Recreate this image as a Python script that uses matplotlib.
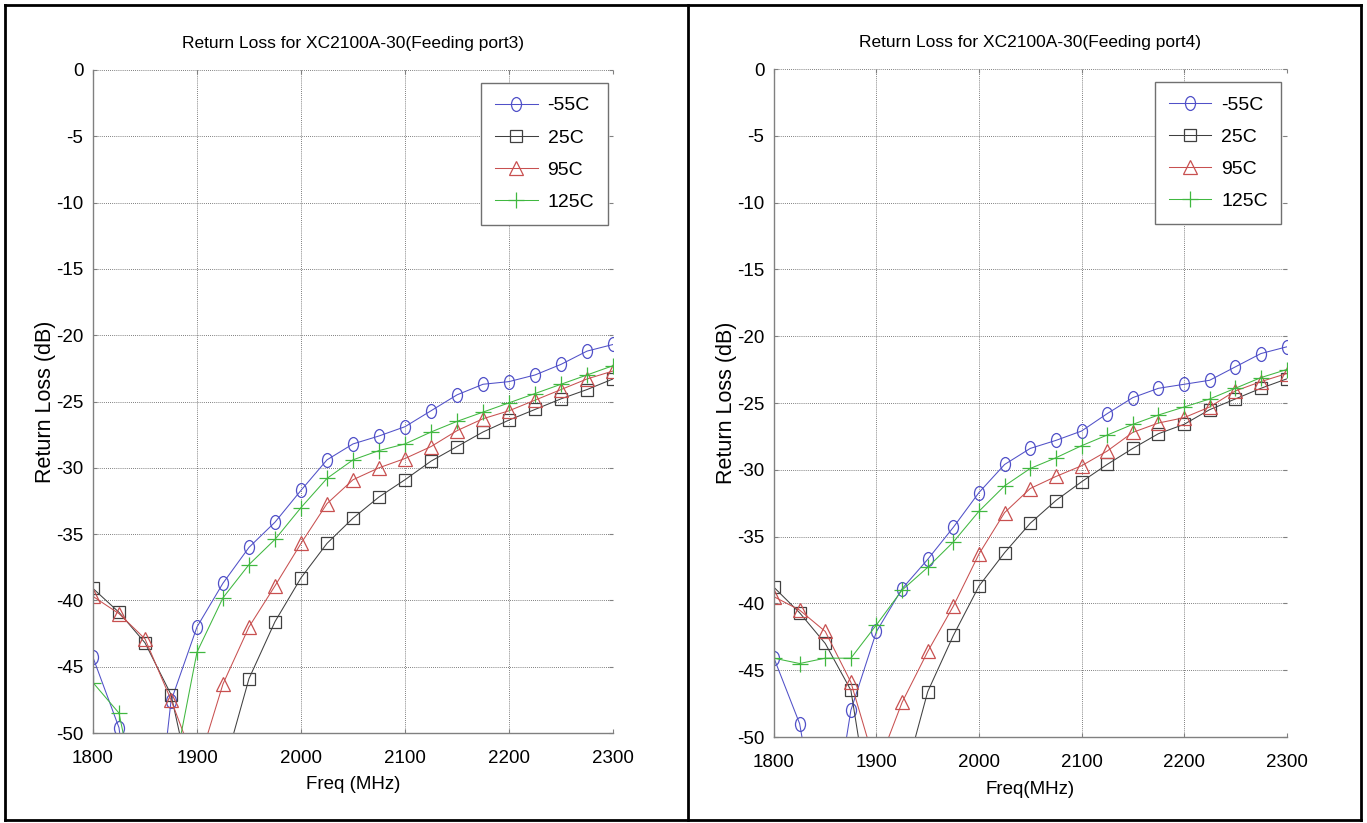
import numpy as np
import matplotlib
matplotlib.use("Agg")
from matplotlib import pyplot as plt
from matplotlib.path import Path
from matplotlib.transforms import Affine2D
from matplotlib.lines import Line2D

plt.rcParams['font.family'] = ['Liberation Sans', 'DejaVu Sans']
plt.rcParams['axes.unicode_minus'] = False

freq = np.arange(1800, 2301, 25)
labels = ['-55C', '25C', '95C', '125C']

# port3 (left panel)
p3_m55 = [-44.3, -49.6, -65.0, -47.6, -42.0, -38.7, -36.0, -34.1, -31.7, -29.4, -28.2,
          -27.6, -26.9, -25.7, -24.5, -23.7, -23.5, -23.0, -22.2, -21.2, -20.7]
p3_25 = [-39.1, -40.9, -43.2, -47.1, -56.0, -52.9, -45.9, -41.6, -38.3, -35.7, -33.8,
         -32.2, -30.9, -29.5, -28.4, -27.3, -26.4, -25.6, -24.8, -24.1, -23.3]
p3_95 = [-39.7, -41.0, -42.9, -47.5, -52.7, -46.3, -42.0, -38.9, -35.7, -32.7, -30.9,
         -30.0, -29.3, -28.4, -27.2, -26.3, -25.7, -24.9, -24.1, -23.3, -22.7]
p3_125 = [-46.2, -48.5, -58.0, -54.0, -43.9, -39.8, -37.3, -35.4, -33.0, -30.8, -29.4,
          -28.7, -28.2, -27.3, -26.5, -25.8, -25.1, -24.4, -23.7, -23.0, -22.3]

# port4 (right panel)
p4_m55 = [-44.1, -49.0, -60.0, -48.0, -42.1, -38.9, -36.7, -34.3, -31.7, -29.6, -28.4,
          -27.8, -27.1, -25.8, -24.6, -23.9, -23.6, -23.3, -22.3, -21.3, -20.8]
p4_25 = [-38.8, -40.7, -43.0, -46.5, -58.5, -53.7, -46.6, -42.4, -38.7, -36.2, -34.0,
         -32.3, -30.9, -29.6, -28.4, -27.3, -26.6, -25.5, -24.7, -23.9, -23.2]
p4_95 = [-39.5, -40.5, -42.1, -45.9, -52.4, -47.4, -43.6, -40.2, -36.3, -33.2, -31.4,
         -30.5, -29.7, -28.6, -27.2, -26.5, -26.1, -25.3, -24.1, -23.4, -22.8]
p4_125 = [-44.1, -44.5, -44.1, -44.1, -41.6, -39.0, -37.3, -35.4, -33.1, -31.2, -29.9,
          -29.1, -28.2, -27.4, -26.6, -25.9, -25.3, -24.7, -23.9, -23.1, -22.5]

colors = ['#5050c8', '#404040', '#c85050', '#40b840']
# circles look like tall ellipses in the original
ellipse = Path.unit_circle().transformed(Affine2D().scale(0.72, 1.0))
markers = [ellipse, 's', '^', '+']
msizes = [10, 9, 10, 11]


def draw_panel(ax, series, title, xlabel):
    for ys, c, m, ms, lab in zip(series, colors, markers, msizes, labels):
        ax.plot(freq, ys, color=c, lw=0.75, marker=m, ms=ms, mfc='none',
                mec=c, mew=0.9, label=lab, clip_on=True)
    ax.set_xlim(1800, 2300)
    ax.set_ylim(-50, 0)
    ax.set_xticks(np.arange(1800, 2301, 100))
    ax.set_yticks(np.arange(-50, 1, 5))
    ax.grid(True, linestyle=(0, (1, 1.5)), color='#555555', lw=0.6)
    for s in ['top', 'right']:
        ax.spines[s].set_visible(False)
    for s in ['left', 'bottom']:
        ax.spines[s].set_color('#808080')
        ax.spines[s].set_linewidth(1.0)
    ax.tick_params(direction='in', length=3, top=True, right=True,
                   color='#808080', labelsize=13.5)
    ax.tick_params(axis='y', pad=7)
    ax.tick_params(axis='x', pad=12)
    ax.text(0.5, 1.04, title, transform=ax.transAxes, ha='center', va='center', fontsize=12.5)
    ax.text(0.5, -0.078, xlabel, transform=ax.transAxes, ha='center', va='center', fontsize=13.5)
    ax.text(-0.092, 0.5, 'Return Loss (dB)', transform=ax.transAxes, ha='center', va='center',
            rotation=90, fontsize=15.5)
    leg = ax.legend(loc='upper right', bbox_to_anchor=(0.99, 0.98), borderaxespad=0,
                    fancybox=False, framealpha=1, edgecolor='#707070', fontsize=14,
                    handlelength=2.2, labelspacing=0.75, borderpad=0.7, handletextpad=0.5)
    leg.get_frame().set_linewidth(1.0)


fig = plt.figure(figsize=(13.67, 8.23), dpi=100)

ax1 = fig.add_axes([93 / 1367, 1 - 733 / 823, 520 / 1367, 663 / 823])
draw_panel(ax1, [p3_m55, p3_25, p3_95, p3_125],
           'Return Loss for XC2100A-30(Feeding port3)', 'Freq (MHz)')

ax2 = fig.add_axes([774 / 1367, 1 - 737 / 823, 512.5 / 1367, 668 / 823])
draw_panel(ax2, [p4_m55, p4_25, p4_95, p4_125],
           'Return Loss for XC2100A-30(Feeding port4)', 'Freq(MHz)')

# table-like frame around the two pictures
W, H = 1367, 823
for xs, ys in [([5, 1361], [5, 5]), ([5, 1361], [820, 820]), ([5, 5], [5, 820]),
               ([1361, 1361], [5, 820]), ([688, 688], [5, 820])]:
    fig.add_artist(Line2D([x / W for x in xs], [1 - y / H for y in ys], color='black', lw=2))

fig.savefig('out.png', dpi=100)
